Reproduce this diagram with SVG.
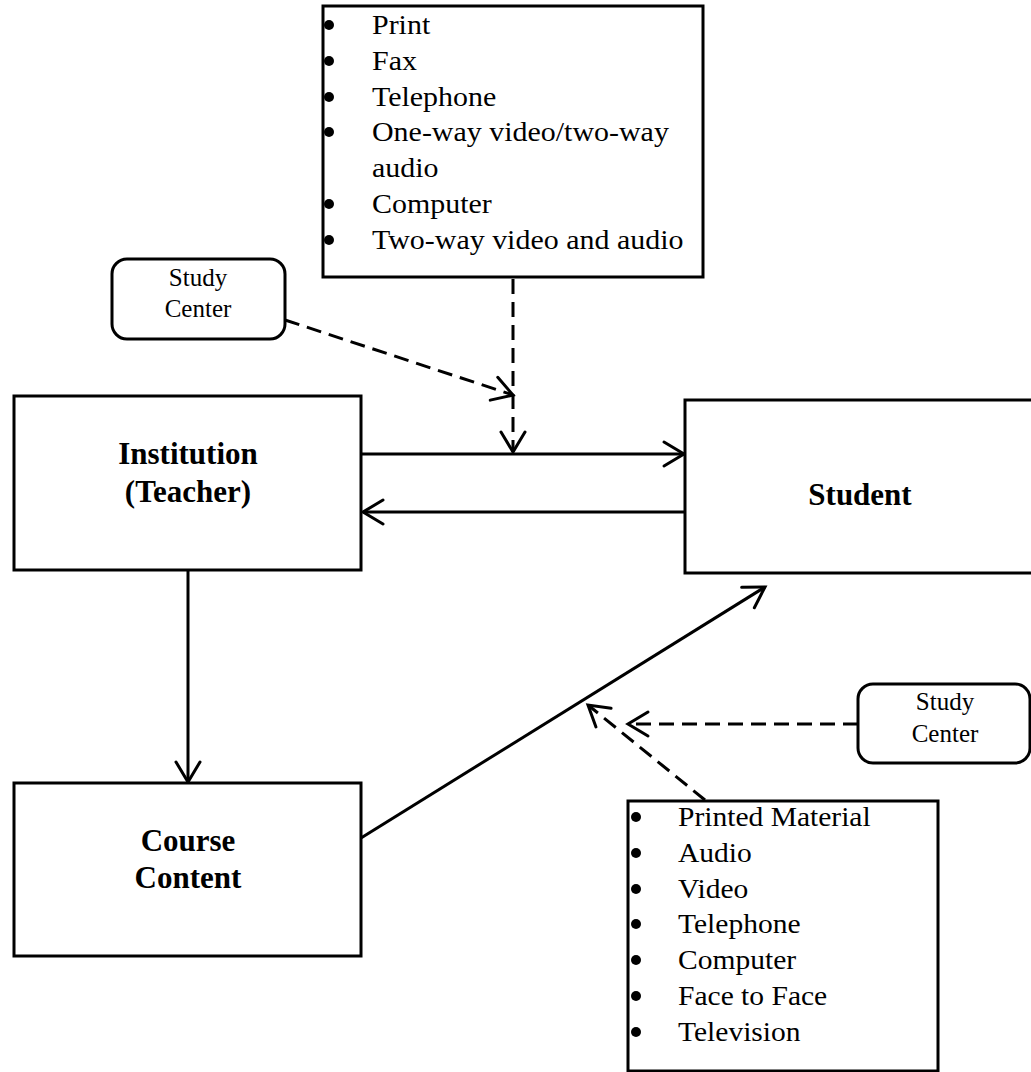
<svg xmlns="http://www.w3.org/2000/svg" width="1031" height="1072" viewBox="0 0 1031 1072">
<defs>
<style>
.box{fill:#fff;stroke:#000;stroke-width:3}
.list{font-family:"Liberation Serif","Times New Roman",serif;font-size:28px;fill:#000}
.sc{font-family:"Liberation Serif","Times New Roman",serif;font-size:25px;fill:#000;text-anchor:middle}
.bold{font-family:"Liberation Serif","Times New Roman",serif;font-size:31px;font-weight:bold;fill:#000;text-anchor:middle}
.solid{fill:none;stroke:#000;stroke-width:3;marker-end:url(#arr)}
.dash{fill:none;stroke:#000;stroke-width:3;stroke-dasharray:15 8;marker-end:url(#arr)}
</style>
<marker id="arr" markerUnits="userSpaceOnUse" viewBox="-30 -20 40 40" markerWidth="40" markerHeight="40" refX="0" refY="0" orient="auto">
<path d="M-20,-12 L0,0 L-20,12" fill="none" stroke="#000" stroke-width="3" stroke-linecap="round"/>
</marker>
</defs>
<rect width="1031" height="1072" fill="#fff"/>
<g id="connectors">
<line class="solid" x1="362" y1="454" x2="684" y2="454"/>
<line class="solid" x1="685" y1="512" x2="363" y2="512"/>
<line class="solid" x1="188" y1="570" x2="188" y2="782"/>
<line class="solid" x1="361" y1="838" x2="765" y2="587"/>
<line class="dash" x1="513" y1="279" x2="513" y2="452"/>
<line class="dash" x1="285" y1="320" x2="513" y2="395"/>
<line class="dash" x1="705" y1="800" x2="588" y2="705"/>
<line class="dash" x1="858" y1="724" x2="628" y2="724"/>
</g>
<g id="media-top">
<rect class="box" x="323" y="6" width="380" height="271"/>
<g fill="#000">
<circle cx="329" cy="25" r="5"/><circle cx="329" cy="61" r="5"/><circle cx="329" cy="97" r="5"/><circle cx="329" cy="132" r="5"/><circle cx="329" cy="204" r="5"/><circle cx="329" cy="240" r="5"/>
</g>
<g transform="translate(372,0) scale(1.07,1) translate(-372,0)">
<text class="list" x="372" y="34">Print</text>
<text class="list" x="372" y="70">Fax</text>
<text class="list" x="372" y="106">Telephone</text>
<text class="list" x="372" y="141">One-way video/two-way</text>
<text class="list" x="372" y="177">audio</text>
<text class="list" x="372" y="213">Computer</text>
<text class="list" x="372" y="249">Two-way video and audio</text>
</g>
</g>
<g id="study-center-1">
<rect class="box" x="112" y="259" width="173" height="80" rx="15"/>
<text class="sc" x="198" y="286">Study</text>
<text class="sc" x="198" y="317">Center</text>
</g>
<g id="institution">
<rect class="box" x="14" y="396" width="347" height="174"/>
<text class="bold" x="188" y="464">Institution</text>
<text class="bold" x="188" y="502">(Teacher)</text>
</g>
<g id="student">
<rect class="box" x="685" y="400" width="350" height="173"/>
<text class="bold" x="860" y="505">Student</text>
</g>
<g id="course-content">
<rect class="box" x="14" y="783" width="347" height="173"/>
<text class="bold" x="188" y="851">Course</text>
<text class="bold" x="188" y="888">Content</text>
</g>
<g id="study-center-2">
<rect class="box" x="858" y="684" width="172" height="79" rx="15"/>
<text class="sc" x="945" y="710">Study</text>
<text class="sc" x="945" y="742">Center</text>
</g>
<g id="media-bottom">
<rect class="box" x="628" y="801" width="310" height="270"/>
<g fill="#000">
<circle cx="636" cy="817" r="5"/><circle cx="636" cy="853" r="5"/><circle cx="636" cy="889" r="5"/><circle cx="636" cy="924" r="5"/><circle cx="636" cy="960" r="5"/><circle cx="636" cy="996" r="5"/><circle cx="636" cy="1032" r="5"/>
</g>
<g transform="translate(678,0) scale(1.055,1) translate(-678,0)">
<text class="list" x="678" y="826">Printed Material</text>
<text class="list" x="678" y="862">Audio</text>
<text class="list" x="678" y="898">Video</text>
<text class="list" x="678" y="933">Telephone</text>
<text class="list" x="678" y="969">Computer</text>
<text class="list" x="678" y="1005">Face to Face</text>
<text class="list" x="678" y="1041">Television</text>
</g>
</g>
</svg>
